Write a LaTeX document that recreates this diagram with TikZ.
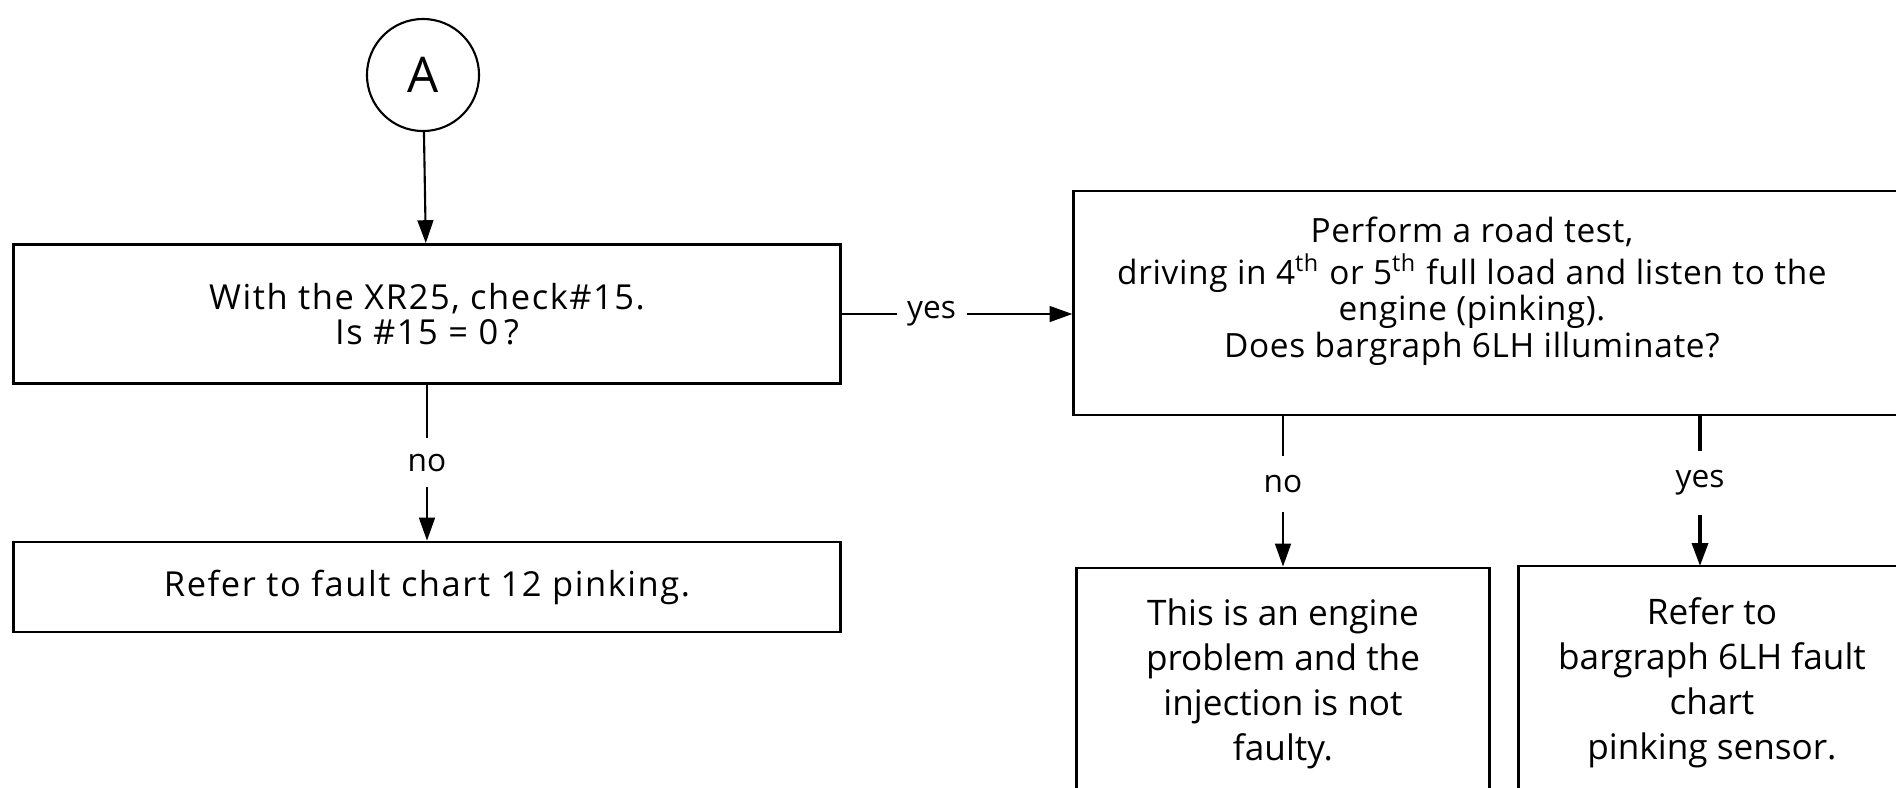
\documentclass[tikz,border=0pt]{standalone}
\usepackage{fontspec}
\setmainfont{Open Sans}
\usetikzlibrary{arrows.meta}

\tikzset{
  box/.style={draw,line width=0.8pt,align=center,inner sep=0pt,font=\fontsize{9.8}{9.9}\selectfont\addfontfeatures{LetterSpace=4.5}},
  bigbox/.style={box,font=\fontsize{10}{12.8}\selectfont},
  link/.style={line width=0.6pt,-{Triangle[length=6.5pt,width=4.5pt]}},
  answer/.style={fill=white,inner xsep=3pt,inner ysep=4.5pt,font=\fontsize{9}{10}\selectfont}
}

\begin{document}
\begin{tikzpicture}[x=0.01cm,y=-0.01cm]
\useasboundingbox (0,0) rectangle (1896,787);
\clip (0,0) rectangle (1896,787);

\node[draw,circle,line width=0.6pt,minimum size=1.12cm,inner sep=0pt,font=\fontsize{14}{14}\selectfont] (A) at (423,75) {A};

\node[box,minimum width=8.26cm,minimum height=1.39cm] (check) at (427,314) {With the XR25, check\#15.\\Is \#15 = 0\,?};
\node[box,minimum width=8.26cm,minimum height=0.9cm] (chart12) at (427,587) {Refer to fault chart 12 pinking.};

% text sits a little left of and above the middle of the frame
\node[box,align=none,font=\fontsize{9.5}{10.2}\selectfont\addfontfeatures{LetterSpace=2},minimum width=8.31cm,minimum height=2.24cm] (road) at (1489.5,303)
  {\hspace*{-10pt}\begin{tabular}{@{}c@{}}Perform a road test,\\
  driving in 4\textsuperscript{th} or 5\textsuperscript{th} full load and listen to the\\
  engine (pinking).\\
  Does bargraph 6LH illuminate?\rule[-9pt]{0pt}{9pt}\end{tabular}};

\node[bigbox,minimum width=4.13cm,minimum height=2.32cm] (engine) at (1283,684) {This is an engine\\problem and the\\injection is not\\faulty.};
\node[bigbox,minimum width=3.87cm,minimum height=2.34cm] (sensor) at (1712,683) {Refer to\\bargraph 6LH fault\\chart\\pinking sensor.};

%A->check
\draw[link] (A) -- (check);

%check->chart 12 / road test
\draw[link] (check) -- node[answer]{no} (chart12);
\draw[link] (check.east) -- node[answer,pos=0.39]{yes} (check.east -| road.west);

%road test->engine / sensor
\draw[link] (engine.north |- road.south) -- node[answer,inner ysep=5.5pt,pos=0.45]{no} (engine.north);
\draw[link,line width=1.1pt] (1700,415) -- node[answer,inner ysep=5.5pt,pos=0.45]{yes} (1700,566);

\end{tikzpicture}
\end{document}
